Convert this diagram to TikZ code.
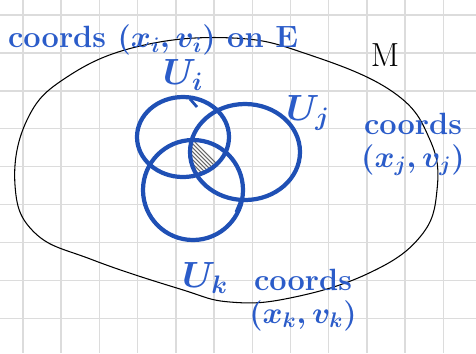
\documentclass[tikz,border=0pt]{standalone}
\usepackage{amsmath,amssymb}
\usepackage{tikz}
\usepackage{xcolor}
\usetikzlibrary{positioning}
\definecolor{InkBlue}{HTML}{2B5CC9}
\definecolor{PatchBlue}{HTML}{1F50B5}
\definecolor{GridGray}{HTML}{DCDCDC}

\begin{document}
\begin{tikzpicture}[x=0.02cm, y=-0.02cm, node distance=5pt,
  ink/.style={text=InkBlue, font=\fontsize{17.5}{21}\selectfont\bfseries\boldmath, inner sep=0pt},
  patch/.style={draw=PatchBlue, line width=2.4pt},
  mfold/.style={draw=black, line width=0.6pt},
  gridline/.style={draw=GridGray, line width=0.8pt}]
  \useasboundingbox (0,0) rectangle (476,353);
  % squared paper
  \foreach \gx in {0,...,11} \draw[gridline] (23+38.2*\gx,0) -- (23+38.2*\gx,353);
  \foreach \gy in {0,...,8} \draw[gridline] (0,15+37.9*\gy) -- (476,15+37.9*\gy);

  % the manifold M
  \draw[mfold] plot[smooth cycle, tension=0.7] coordinates {
    (233,38) (307,54) (393,92) (430,140) (437,190) (420,237) (367,274)
    (290,298) (230,302) (180,289) (93,260) (35,233) (15,185) (27,120)
    (67,77) (140,46)};

  % the three patches and their common part
  \begin{scope}
    \clip (183,137) ellipse [x radius=46, y radius=40];
    \clip (245,152) ellipse [x radius=55, y radius=48];
    \clip (193,190) ellipse [x radius=50, y radius=50];
    \foreach \h in {150,154,...,240} \draw[gray!80!black, line width=0.6pt] (\h,185) -- ++(-45,-45);
  \end{scope}
  \draw[patch] (183,137) ellipse [x radius=46, y radius=40];
  \draw[patch] (245,152) ellipse [x radius=55, y radius=48];
  \draw[patch] (193,190) ellipse [x radius=50, y radius=50];
  \draw[patch, line width=1.6pt] (190,99) -- (197,107);
  \draw[patch, line width=1.6pt] (241,200) -- (236,212);

  % labels
  \node (coordsI) [ink] at (153,40) {coords $(x_i, v_i)$ on E};
  \node (Mlabel) [font=\fontsize{19}{22}\selectfont, inner sep=0pt] at (385,55) {M};
  \node (Ui) [ink, font=\fontsize{21}{24}\selectfont\bfseries\boldmath] at (183,75) {$U_i$};
  \node (Uj) [ink, font=\fontsize{21}{24}\selectfont\bfseries\boldmath] at (308,113) {$U_j$};
  \node (Uk) [ink, font=\fontsize{21}{24}\selectfont\bfseries\boldmath] at (205,278) {$U_k$};
  \node (coordsJ) [ink] at (413,124) {coords};
  \node (coordsJb) [ink, below=of coordsJ] {$(x_j, v_j)$};
  \node (coordsK) [ink] at (303,280) {coords};
  \node (coordsKb) [ink, below=of coordsK] {$(x_k, v_k)$};
\end{tikzpicture}
\end{document}
